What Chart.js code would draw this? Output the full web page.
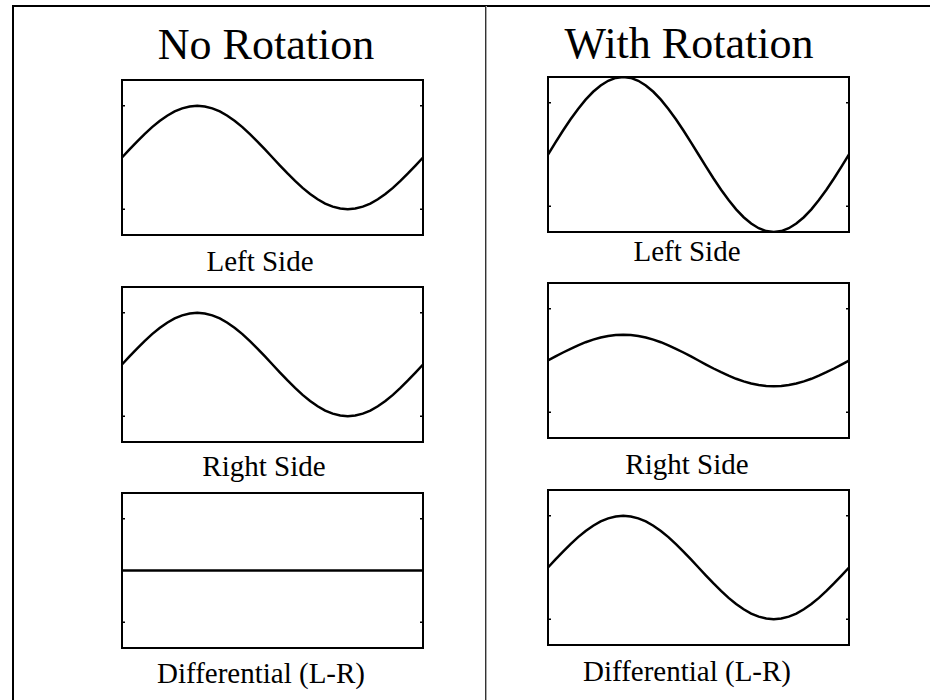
<!DOCTYPE html>
<html>
<head>
<meta charset="utf-8">
<script src="https://cdn.jsdelivr.net/npm/chart.js@4/dist/chart.umd.min.js"></script>
<style>
  html, body { margin: 0; padding: 0; background: #fff; }
  body { width: 930px; height: 700px; position: relative; overflow: hidden;
         font-family: 'Liberation Serif', 'Times New Roman', serif; color: #000; }
  .line { position: absolute; background: #000; }
  .txt { position: absolute; white-space: nowrap; line-height: 1; transform: translateX(-50%); }
  .ttl { font-size: 44px; }
  .lbl { font-size: 29px; }
  canvas { position: absolute; }
</style>
</head>
<body>
<div class="line" style="left:12px;top:5px;width:2px;height:695px"></div>
<div class="line" style="left:12px;top:5px;width:918px;height:2px"></div>
<div class="line" style="left:485px;top:6px;width:1px;height:694px;background:#333"></div>
<div class="line" style="left:486px;top:6px;width:1px;height:694px;background:#aaa"></div>

<div class="txt ttl" style="left:266px;top:23px">No Rotation</div>
<div class="txt ttl" style="left:689px;top:22px">With Rotation</div>

<div class="txt lbl" style="left:260px;top:247px">Left Side</div>
<div class="txt lbl" style="left:264px;top:452px">Right Side</div>
<div class="txt lbl" style="left:261px;top:659px">Differential (L-R)</div>
<div class="txt lbl" style="left:687px;top:237px">Left Side</div>
<div class="txt lbl" style="left:687px;top:450px">Right Side</div>
<div class="txt lbl" style="left:687px;top:657px">Differential (L-R)</div>

<canvas id="l1"></canvas>
<canvas id="l2"></canvas>
<canvas id="l3"></canvas>
<canvas id="r1"></canvas>
<canvas id="r2"></canvas>
<canvas id="r3"></canvas>

<script>
// 时间轴 (一个周期)
const TIME = [0,0.025,0.05,0.075,0.1,0.125,0.15,0.175,0.2,0.225,0.25,0.275,0.3,0.325,0.35,0.375,0.4,0.425,0.45,0.475,0.5,
  0.525,0.55,0.575,0.6,0.625,0.65,0.675,0.7,0.725,0.75,0.775,0.8,0.825,0.85,0.875,0.9,0.925,0.95,0.975,1];

// 无旋转
const LEFT_NO_ROT = [0,0.156,0.309,0.454,0.588,0.707,0.809,0.891,0.951,0.988,1,0.988,0.951,0.891,0.809,0.707,0.588,0.454,0.309,0.156,0,
  -0.156,-0.309,-0.454,-0.588,-0.707,-0.809,-0.891,-0.951,-0.988,-1,-0.988,-0.951,-0.891,-0.809,-0.707,-0.588,-0.454,-0.309,-0.156,0];
const RIGHT_NO_ROT = [0,0.156,0.309,0.454,0.588,0.707,0.809,0.891,0.951,0.988,1,0.988,0.951,0.891,0.809,0.707,0.588,0.454,0.309,0.156,0,
  -0.156,-0.309,-0.454,-0.588,-0.707,-0.809,-0.891,-0.951,-0.988,-1,-0.988,-0.951,-0.891,-0.809,-0.707,-0.588,-0.454,-0.309,-0.156,0];
const DIFF_NO_ROT = [0,0,0,0,0,0,0,0,0,0,0,0,0,0,0,0,0,0,0,0,0,0,0,0,0,0,0,0,0,0,0,0,0,0,0,0,0,0,0,0,0];

// 有旋转
const LEFT_ROT = [0,0.235,0.464,0.681,0.882,1.061,1.214,1.336,1.427,1.482,1.5,1.482,1.427,1.336,1.214,1.061,0.882,0.681,0.464,0.235,0,
  -0.235,-0.464,-0.681,-0.882,-1.061,-1.214,-1.336,-1.427,-1.482,-1.5,-1.482,-1.427,-1.336,-1.214,-1.061,-0.882,-0.681,-0.464,-0.235,0];
const RIGHT_ROT = [0,0.078,0.155,0.227,0.294,0.354,0.405,0.446,0.476,0.494,0.5,0.494,0.476,0.446,0.405,0.354,0.294,0.227,0.155,0.078,0,
  -0.078,-0.155,-0.227,-0.294,-0.354,-0.405,-0.446,-0.476,-0.494,-0.5,-0.494,-0.476,-0.446,-0.405,-0.354,-0.294,-0.227,-0.155,-0.078,0];
const DIFF_ROT = [0,0.156,0.309,0.454,0.588,0.707,0.809,0.891,0.951,0.988,1,0.988,0.951,0.891,0.809,0.707,0.588,0.454,0.309,0.156,0,
  -0.156,-0.309,-0.454,-0.588,-0.707,-0.809,-0.891,-0.951,-0.988,-1,-0.988,-0.951,-0.891,-0.809,-0.707,-0.588,-0.454,-0.309,-0.156,0];

const Y_TICKS = [-1, 1];
const Y_MIN = -1.5, Y_MAX = 1.5;

const PAD = 4, W = 301, H = 155;

// 外框 + 向内刻度
const framePlugin = {
  id: 'frame',
  afterDatasetsDraw(chart) {
    const {ctx, chartArea: a, scales: {y}} = chart;
    ctx.save();
    ctx.strokeStyle = '#000';
    ctx.lineWidth = 2;
    ctx.strokeRect(a.left, a.top, a.right - a.left, a.bottom - a.top);
    ctx.lineWidth = 1.5;
    Y_TICKS.forEach(v => {
      const py = y.getPixelForValue(v);
      ctx.beginPath();
      ctx.moveTo(a.left, py); ctx.lineTo(a.left + 3, py);
      ctx.moveTo(a.right - 3, py); ctx.lineTo(a.right, py);
      ctx.stroke();
    });
    ctx.restore();
  }
};

function panel(id, x, y, values) {
  const cv = document.getElementById(id);
  cv.width = W + 2 * PAD; cv.height = H + 2 * PAD;
  cv.style.left = (x - PAD) + 'px'; cv.style.top = (y - PAD) + 'px';
  new Chart(cv, {
    type: 'line',
    data: {
      datasets: [{
        data: TIME.map((t, i) => ({x: t, y: values[i]})),
        borderColor: '#000',
        borderWidth: 2.5,
        pointRadius: 0,
        tension: 0,
        fill: false
      }]
    },
    options: {
      responsive: false,
      animation: false,
      layout: {padding: PAD},
      plugins: {legend: {display: false}, tooltip: {enabled: false}},
      scales: {
        x: {type: 'linear', min: 0, max: 1, display: false},
        y: {min: Y_MIN, max: Y_MAX, display: false}
      }
    },
    plugins: [framePlugin]
  });
}

panel('l1', 122, 80, LEFT_NO_ROT);
panel('l2', 122, 287, RIGHT_NO_ROT);
panel('l3', 122, 493, DIFF_NO_ROT);
panel('r1', 548, 77, LEFT_ROT);
panel('r2', 548, 283, RIGHT_ROT);
panel('r3', 548, 490, DIFF_ROT);
</script>
</body>
</html>
